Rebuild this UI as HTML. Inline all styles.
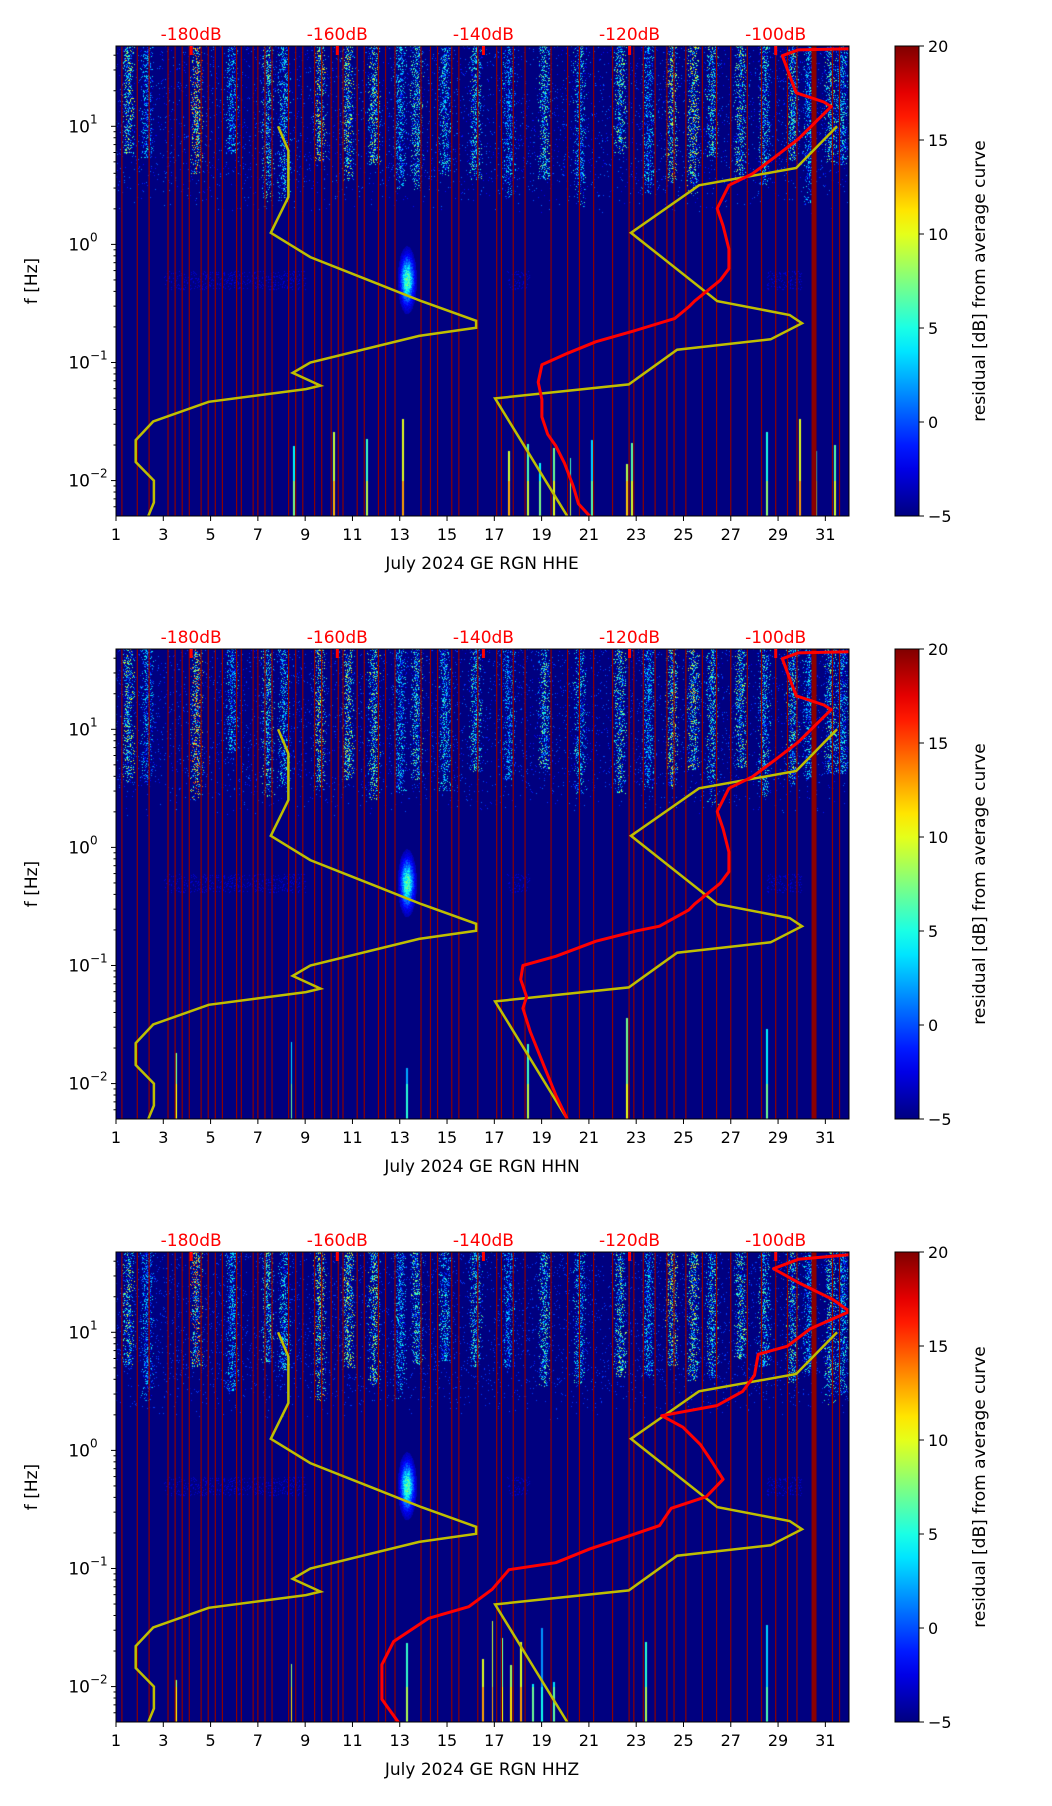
<!DOCTYPE html>
<html><head><meta charset="utf-8"><style>
body{margin:0;background:#fff;width:1052px;height:1806px;position:relative;overflow:hidden;font-family:"DejaVu Sans","Liberation Sans",sans-serif}
canvas{position:absolute}
svg{position:absolute;left:0;top:0}
</style></head><body>
<canvas id="c0" width="733" height="470" style="left:116px;top:46px"></canvas>
<canvas id="c1" width="733" height="470" style="left:116px;top:649px"></canvas>
<canvas id="c2" width="733" height="470" style="left:116px;top:1252px"></canvas>
<svg id="s" width="1052" height="1806"></svg>
<script>
// ---------- data ----------
const channels=["HHE","HHN","HHZ"];
const dayTicks=[1,3,5,7,9,11,13,15,17,19,21,23,25,27,29,31];
const dbTicks=[-180,-160,-140,-120,-100];
const decadeTicks=[-2,-1,0,1];
const cbTicks=[20,15,10,5,0,-5];
const nlnmDb=[-168.1,-166.7,-166.7,-169.1,-163.7,-148.5,-141.0,-141.0,-148.8,-163.7,-166.1,-162.3,-164.3,-177.6,-185.2,-187.6,-187.6,-185.1,-185.1,-185.9];
const nlnmLf=[1.0,0.794,0.402,0.098,-0.108,-0.480,-0.647,-0.706,-0.775,-1.0,-1.088,-1.196,-1.225,-1.333,-1.5,-1.657,-1.843,-2.0,-2.186,-2.304];
const nhnmDb=[-91.6,-97.2,-110.5,-119.8,-108.0,-98.1,-96.4,-100.7,-113.5,-120.1,-138.4,-128.5];
const nhnmLf=[1.0,0.647,0.5,0.098,-0.480,-0.598,-0.667,-0.804,-0.892,-1.186,-1.304,-2.304];
const avgDbHHE=[-89.9,-96.9,-99.1,-97.8,-97.2,-93.4,-92.4,-94.5,-96.9,-100.0,-103.2,-106.4,-108.0,-107.2,-106.4,-106.4,-107.6,-111.1,-111.9,-113.8,-119.0,-124.6,-128.5,-132.0,-132.5,-132.0,-132.0,-131.2,-130.1,-128.9,-127.7,-127.0,-125.4];
const avgLfHHE=[1.657,1.647,1.598,1.382,1.284,1.206,1.167,1.039,0.892,0.745,0.598,0.5,0.304,0.157,-0.039,-0.206,-0.304,-0.480,-0.529,-0.627,-0.725,-0.824,-0.922,-1.020,-1.167,-1.314,-1.461,-1.608,-1.706,-1.853,-2.049,-2.196,-2.304];
const avgDbHHN=[-89.9,-96.9,-99.1,-97.8,-97.2,-93.4,-92.4,-94.5,-96.9,-100.0,-103.2,-106.4,-108.0,-107.2,-106.4,-106.4,-107.6,-111.1,-111.9,-115.9,-119.0,-124.6,-130.1,-134.6,-134.9,-134.1,-134.6,-133.6,-131.7,-130.1,-128.5];
const avgLfHHN=[1.657,1.647,1.598,1.382,1.284,1.206,1.167,1.039,0.892,0.745,0.598,0.5,0.304,0.157,-0.039,-0.206,-0.304,-0.480,-0.529,-0.667,-0.706,-0.794,-0.922,-1.0,-1.118,-1.265,-1.363,-1.559,-1.853,-2.098,-2.304];
const avgDbHHZ=[-89.9,-96.9,-100.3,-96.9,-92.1,-89.9,-95.3,-98.4,-102.4,-102.9,-104.5,-108.0,-115.6,-112.7,-110.3,-108.7,-107.2,-109.5,-114.3,-115.9,-120.6,-125.4,-130.1,-136.5,-138.8,-142.0,-147.5,-152.3,-153.9,-153.9,-151.5];
const avgLfHHZ=[1.657,1.618,1.539,1.422,1.275,1.176,1.029,0.882,0.814,0.637,0.50,0.38,0.294,0.196,0.049,-0.098,-0.245,-0.392,-0.490,-0.637,-0.735,-0.833,-0.951,-1.010,-1.176,-1.324,-1.422,-1.618,-1.814,-2.108,-2.314];
const streakDays=[1.5,2.3,4.4,5.9,7.4,8.1,9.6,10.8,11.9,13.0,13.7,14.9,16.2,17.6,19.1,20.6,22.3,23.5,24.5,25.4,26.2,27.4,28.4,29.6,30.3,31.2,31.7];
const streakStr=[14,8,20,9,12,10,16,15,14,9,12,10,11,8,12,10,13,9,16,15,12,13,11,12,9,12,10];
const lowDaysHHE=[8.5,10.2,11.6,13.1,17.6,18.4,18.9,19.5,20.2,21.1,22.6,22.8,28.5,29.9,30.6,31.4];
const lowDaysHHN=[3.5,8.4,13.3,18.4,22.6,28.5];
const lowDaysHHZ=[3.5,8.4,13.3,16.5,16.9,17.3,17.7,18.1,18.6,19.0,19.5,23.4,28.5];
const gapDays=[1.25,1.9,2.4,3.2,3.5,3.8,4.1,4.6,4.9,5.2,5.5,6.1,6.3,6.8,7.0,7.3,7.6,8.3,8.6,8.9,9.4,9.7,10.1,10.4,10.6,11.2,11.5,12.1,12.4,12.8,13.9,14.3,14.6,15.2,15.5,16.3,17.1,17.3,17.8,18.3,19.4,20.1,20.6,21.2,22.0,22.7,22.9,23.3,23.8,24.3,24.6,25.1,25.8,26.4,27.0,27.7,28.3,28.9,29.4,29.8,30.5,30.6,31.3,31.6];

// ---------- geometry ----------
const AX_L=116,AX_W=733,AX_H=470,TOPS=[46,649,1252];
const LMIN=-2.30,LMAX=1.68;
function xDay(d){return AX_L+(d-1)/31*AX_W;}
function dayOfDb(db){return 4.18+(db+180)/20*6.18;}
function xDb(db){return xDay(dayOfDb(db));}
function yLog(top,lf){return top+(LMAX-lf)/(LMAX-LMIN)*AX_H;}
function jet(v){let t=(v+5)/25;t=Math.max(0,Math.min(1,t));
 const f=x=>Math.max(0,Math.min(1,1.5-Math.abs(4*t-x)));
 return [f(3)*255,f(2)*255,f(1)*255];}
function hash(a,b,c){let h=(a*374761393+b*668265263+c*2147483647)|0;h=(h^(h>>>13))*1274126177|0;h=h^(h>>>16);return (h>>>0)/4294967295;}

const lowSets=[lowDaysHHE,lowDaysHHN,lowDaysHHZ];
for(let p=0;p<3;p++){
 const cv=document.getElementById('c'+p),ctx=cv.getContext('2d');
 const img=ctx.createImageData(733,470),D=img.data;
 for(let x=0;x<733;x++){
  const d=1+x/733*31;
  for(let y=0;y<470;y++){
   const lf=LMAX-y/470*(LMAX-LMIN);
   let v=-5;
   if(lf>0.25){
    const fade=Math.min(1,(lf-0.25)/0.4);
    for(let i=0;i<streakDays.length;i++){
     const dist=Math.abs(d-streakDays[i])*23.6;
     const cut=0.3+0.5*hash(i,p,21);
     if(dist<7 && lf>cut){const r=hash(x,y,p+i);const pr=(1-dist/7)*0.5*fade;
      if(r<pr){v=Math.max(v,-3+streakStr[i]*hash(y,x,p+7));}}
    }
    if(hash(x,y,p+99)<0.04*fade) v=Math.max(v,-2+3*hash(x,y,5));
   }
   const bd=(d-13.3)*23.6,bl=(lf+0.3)*118;
   const b=Math.exp(-(bd*bd)/40-(bl*bl)/500);
   if(b>0.1) v=Math.max(v,-5+b*14*(0.6+0.4*hash(x,y,3)));
   if(Math.abs(lf+0.3)<0.08 && hash(x,y,11)<0.15 && ((d>3&&d<9)||(d>17.5&&d<18.5)||(d>28.5&&d<30))) v=Math.max(v,-3);
   if(lf<-1.4){
    const L=lowSets[p];
    for(let i=0;i<L.length;i++){const dist=Math.abs(d-L[i])*23.6;
     const topLf=-1.4-0.6*hash(i,p,33);
     if(dist<0.9 && lf<topLf){v=Math.max(v,1+9*hash(i,p,9)+(lf<-2.0?3:0));}}
   }
   const c=jet(v),k=(y*733+x)*4;
   D[k]=c[0];D[k+1]=c[1];D[k+2]=c[2];D[k+3]=255;
  }
 }
 ctx.putImageData(img,0,0);
}

const S=document.getElementById('s'),NS='http://www.w3.org/2000/svg';
function el(tag,attrs,txt){const e=document.createElementNS(NS,tag);for(const k in attrs)e.setAttribute(k,attrs[k]);if(txt!=null)e.textContent=txt;S.appendChild(e);return e;}
const avgDb=[avgDbHHE,avgDbHHN,avgDbHHZ],avgLf=[avgLfHHE,avgLfHHN,avgLfHHZ];
function pts(top,dbs,lfs){return dbs.map((db,i)=>xDb(db).toFixed(1)+','+yLog(top,lfs[i]).toFixed(1)).join(' ');}
const defs=el('defs',{});
const g=document.createElementNS(NS,'linearGradient');g.setAttribute('id','jet');g.setAttribute('x1','0');g.setAttribute('y1','1');g.setAttribute('x2','0');g.setAttribute('y2','0');defs.appendChild(g);
for(let i=0;i<=20;i++){const v=-5+25*i/20,c=jet(v);const st=document.createElementNS(NS,'stop');st.setAttribute('offset',i/20);st.setAttribute('stop-color',`rgb(${c.map(Math.round).join(',')})`);g.appendChild(st);}
for(let p=0;p<3;p++){
 const top=TOPS[p],bot=top+AX_H;
 const cp=document.createElementNS(NS,'clipPath');cp.setAttribute('id','clip'+p);
 const cr=document.createElementNS(NS,'rect');cr.setAttribute('x',AX_L);cr.setAttribute('y',top);cr.setAttribute('width',AX_W);cr.setAttribute('height',AX_H);cp.appendChild(cr);defs.appendChild(cp);
 const grp=el('g',{'clip-path':`url(#clip${p})`});
 
 
 gapDays.forEach(d=>{const l=document.createElementNS(NS,'line');
  l.setAttribute('x1',xDay(d));l.setAttribute('x2',xDay(d));l.setAttribute('y1',top);l.setAttribute('y2',bot);
  l.setAttribute('stroke','#8b0000');l.setAttribute('stroke-width',d===30.5?4:1.2);
  
  
  grp.appendChild(l);});
 [[nlnmDb,nlnmLf,'nlnm-curve'],[nhnmDb,nhnmLf,'nhnm-curve']].forEach(([a,b,n])=>{
  const pl=document.createElementNS(NS,'polyline');pl.setAttribute('points',pts(top,a,b));
  pl.setAttribute('fill','none');pl.setAttribute('stroke','#bfbf00');pl.setAttribute('stroke-width','2.5');
  
  
  grp.appendChild(pl);});
 const rc=document.createElementNS(NS,'polyline');rc.setAttribute('points',pts(top,avgDb[p],avgLf[p]));
 rc.setAttribute('fill','none');rc.setAttribute('stroke','#ff0000');rc.setAttribute('stroke-width','3');rc.setAttribute('stroke-linejoin','round');
 
 
 grp.appendChild(rc);
 const fr=el('rect',{x:AX_L,y:top,width:AX_W,height:AX_H,fill:'none',stroke:'#000','stroke-width':1});
 
 
 dbTicks.forEach(db=>{const x=xDb(db);
  const r=el('rect',{x:x-1.5,y:top,width:3,height:9,fill:'#ff0000'});
  
  
  const t=el('text',{x:x,y:top-6,'text-anchor':'middle','font-size':17,fill:'#ff0000'},db+'dB');
  
  });
 dayTicks.forEach(d=>{const x=xDay(d);
  el('line',{x1:x,x2:x,y1:bot,y2:bot+5,stroke:'#000'});
  const t=el('text',{x:x,y:bot+24,'text-anchor':'middle','font-size':16},d);
  
  });
 const xl=el('text',{x:482,y:bot+53,'text-anchor':'middle','font-size':17},'July 2024 GE RGN  '+channels[p]);
 
 
 for(let e=-3;e<=1;e++)for(let m=1;m<10;m++){const lf=e+Math.log10(m);if(lf<LMIN||lf>LMAX)continue;
  const y=yLog(top,lf);el('line',{x1:AX_L,x2:AX_L-(m===1?5:2.5),y1:y,y2:y,stroke:'#000'});}
 decadeTicks.forEach(e=>{const y=yLog(top,e);
  const t=el('text',{x:AX_L-26,y:y+6,'text-anchor':'end','font-size':17},'10');
  
  
  el('text',{x:AX_L-26,y:y-3,'text-anchor':'start','font-size':12},e<0?'\u2212'+(-e):e);});
 const yl=el('text',{x:37,y:top+AX_H/2,'text-anchor':'middle','font-size':17,transform:`rotate(-90 37 ${top+AX_H/2})`},'f [Hz]');
 
 
 const cb=el('rect',{x:895,y:top,width:24,height:AX_H,fill:'url(#jet)',stroke:'#000','stroke-width':1});
 
 
 cbTicks.forEach(v=>{const y=top+(20-v)/25*AX_H;
  el('line',{x1:919,x2:924,y1:y,y2:y,stroke:'#000'});
  const t=el('text',{x:928,y:y+6,'font-size':16},v<0?'\u2212'+(-v):v);
  
  });
 const cl=el('text',{x:985,y:top+AX_H/2,'text-anchor':'middle','font-size':17,transform:`rotate(-90 985 ${top+AX_H/2})`},'residual [dB] from average curve');
 
 
}
</script>
</body></html>
